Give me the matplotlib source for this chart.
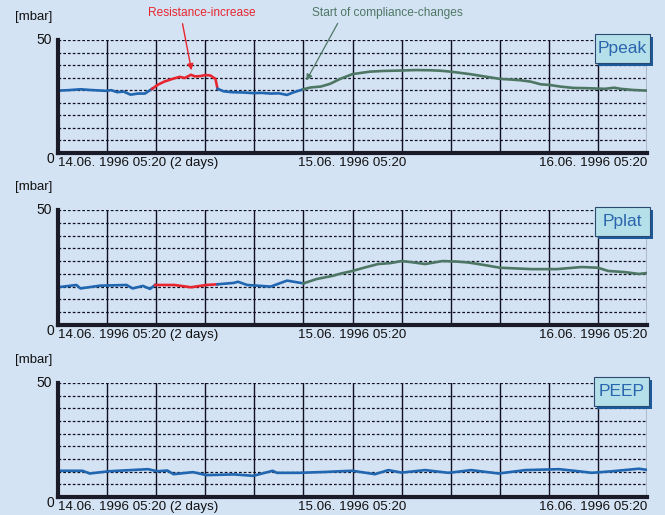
import numpy as np
import matplotlib
matplotlib.use('Agg')
import matplotlib.pyplot as plt
from matplotlib.patches import Rectangle
from matplotlib.transforms import offset_copy

plt.rcParams['font.family'] = ['Liberation Sans', 'DejaVu Sans']

# hours since 14.06. 1996 05:20, grid every 4.8 h
x_max = 57.6
x_ticks = [i * 4.8 for i in range(13)]
x_labels = ['14.06. 1996 05:20 (2 days)', '15.06. 1996 05:20', '16.06. 1996 05:20']
x_label_pos = [0, 24, 48]
panel_names = ['Ppeak', 'Pplat', 'PEEP']

# Ppeak segments
ppeak_t1 = [0, 1.0, 2.2, 3.1, 4.7, 5.2, 5.8, 6.4, 7.1, 7.8, 8.5, 9.2]
ppeak_v1 = [27.6, 27.8, 28.2, 27.9, 27.5, 27.8, 26.9, 27.2, 25.8, 26.3, 26.3, 28.4]
ppeak_tr = [9.2, 9.8, 10.4, 11.2, 11.9, 12.4, 13.0, 13.4, 13.9, 14.4, 14.9, 15.4, 15.6]
ppeak_vr = [28.4, 30.3, 31.6, 32.8, 33.7, 33.2, 34.6, 33.9, 34.0, 34.5, 34.3, 32.8, 28.4]
ppeak_t2 = [15.6, 16.2, 17.0, 18.0, 19.1, 19.9, 20.8, 21.6, 22.4, 23.0, 24.0]
ppeak_v2 = [28.4, 27.3, 26.9, 26.8, 26.5, 26.6, 26.3, 26.4, 25.7, 26.8, 28.2]
ppeak_tg = [24.0, 24.7, 25.7, 26.6, 27.6, 28.8, 30.5, 31.8, 33.6, 35.0, 36.4, 37.4, 38.4, 39.6,
            40.3, 41.8, 43.2, 44.3, 45.2, 46.2, 47.2, 48.1, 49.1, 50.4, 51.6, 52.8, 53.5, 54.4,
            55.0, 56.2, 57.6]
ppeak_vg = [28.2, 29.0, 29.4, 30.6, 32.8, 34.9, 36.0, 36.3, 36.5, 36.7, 36.6, 36.4, 36.0, 35.3,
            34.9, 33.8, 32.8, 32.5, 32.2, 31.6, 30.4, 30.1, 29.4, 28.8, 28.7, 28.5, 28.4, 28.9,
            28.4, 27.9, 27.6]

# Pplat segments
pplat_t1 = [0, 1.8, 2.2, 4.1, 6.7, 7.3, 8.3, 9.0, 9.5]
pplat_v1 = [16.4, 17.4, 15.9, 17.1, 17.4, 15.9, 17.0, 15.7, 17.4]
pplat_tr = [9.5, 11.4, 13.0, 14.5, 15.6]
pplat_vr = [17.4, 17.4, 16.4, 17.4, 17.7]
pplat_t2 = [15.6, 17.2, 17.6, 18.5, 20.8, 22.4, 24.0]
pplat_v2 = [17.7, 18.3, 18.8, 17.4, 16.7, 19.3, 18.1]
pplat_tg = [24.0, 25.3, 26.9, 27.6, 28.8, 30.0, 31.3, 32.5, 33.6, 34.6, 35.9, 37.6, 38.9, 40.1,
            41.8, 43.2, 46.3, 48.8, 51.2, 52.8, 53.8, 55.4, 56.8, 57.6]
pplat_vg = [18.1, 20.0, 21.4, 22.3, 23.5, 25.0, 26.5, 26.9, 27.8, 27.3, 26.5, 27.8, 27.6, 27.2,
            26.0, 24.9, 24.3, 24.3, 25.2, 24.9, 23.5, 23.0, 22.2, 22.6]

# PEEP
peep_t = [0, 2.4, 3.1, 5.0, 8.8, 9.7, 10.7, 11.3, 13.2, 14.5, 17.2, 19.1, 21.0, 21.4, 23.6, 26.2,
          27.6, 28.8, 31.0, 32.3, 33.6, 35.9, 38.2, 40.4, 43.1, 45.7, 49.0, 50.9, 52.2, 54.2,
          56.8, 57.6]
peep_v = [11.5, 11.5, 10.3, 11.3, 12.2, 11.3, 11.6, 10.0, 10.9, 9.6, 9.9, 9.3, 11.5, 10.6, 10.6,
          11.0, 11.3, 11.5, 10.0, 11.8, 10.7, 11.8, 10.6, 11.8, 10.3, 11.8, 12.2, 11.3, 10.6, 11.3,
          12.4, 11.9]

bg = '#d4e3f4'
blue = '#2166b0'
red = '#e8262f'
green = '#4d7764'

W, H = 665, 515
fig = plt.figure(figsize=(W / 100, H / 100), dpi=100, facecolor=bg)

# axes positions in pixels: (left, top, right, bottom)
boxes = [(58, 40, 647, 153), (58, 210, 647, 325), (58, 383, 647, 497)]
label_shift = [0, -4, -7]   # points
axes = []
for (l, t, r, b) in boxes:
    ax = fig.add_axes([l / W, 1 - b / H, (r - l) / W, (b - t) / H])
    ax.set_facecolor(bg)
    ax.set_xlim(0, x_max)
    ax.set_ylim(0, 50)
    ax.set_xticks(x_ticks)
    ax.set_yticks(np.linspace(0, 50, 10))
    ax.tick_params(length=0, labelbottom=False, labelleft=False)
    for sp in ['top', 'right']:
        ax.spines[sp].set_visible(False)
    for sp in ['left', 'bottom']:
        ax.spines[sp].set_linewidth(3)
        ax.spines[sp].set_color('#1a1a28')
    ax.grid(axis='x', color='#111122', lw=1.0, ls='-')
    ax.grid(axis='y', color='#111122', lw=0.9, ls=(0, (2.2, 1.6)))
    ax.set_axisbelow(True)
    for xp, lab, dx in zip(x_label_pos, x_labels, label_shift):
        tr = offset_copy(ax.get_xaxis_transform(), fig=fig, x=dx, y=0, units='points')
        ax.text(xp, -0.09, lab, transform=tr, ha='left', va='center',
                fontsize=9.6, color='#111111')
    fig.text((l - 6) / W, 1 - t / H, '50', ha='right', va='center', fontsize=10, color='#111111')
    fig.text((l - 4) / W, 1 - (b + 6) / H, '0', ha='right', va='center', fontsize=10, color='#111111')
    fig.text(15 / W, 1 - (t - 23) / H, '[mbar]', ha='left', va='center', fontsize=9.5, color='#111111')
    axes.append(ax)

lw = 1.9
axes[0].plot(ppeak_t1, ppeak_v1, color=blue, lw=lw)
axes[0].plot(ppeak_tr, ppeak_vr, color=red, lw=lw)
axes[0].plot(ppeak_t2, ppeak_v2, color=blue, lw=lw)
axes[0].plot(ppeak_tg, ppeak_vg, color=green, lw=lw)

axes[1].plot(pplat_t1, pplat_v1, color=blue, lw=lw)
axes[1].plot(pplat_tr, pplat_vr, color=red, lw=lw)
axes[1].plot(pplat_t2, pplat_v2, color=blue, lw=lw)
axes[1].plot(pplat_tg, pplat_vg, color=green, lw=lw)

axes[2].plot(peep_t, peep_v, color=blue, lw=lw)

# name boxes with shadow
name_boxes = [(595, 34), (595, 207), (594, 377)]
for (bx, by), name in zip(name_boxes, panel_names):
    bw, bh = 55, 29
    fig.add_artist(Rectangle(((bx + 3) / W, 1 - (by + bh + 3) / H), bw / W, bh / H,
                             transform=fig.transFigure, facecolor='#1d5a9c', edgecolor='none'))
    fig.add_artist(Rectangle((bx / W, 1 - (by + bh) / H), bw / W, bh / H,
                             transform=fig.transFigure, facecolor='#b5e0ea', edgecolor='#2a4a70', lw=0.8))
    fig.text((bx + bw / 2) / W, 1 - (by + bh / 2) / H, name, ha='center', va='center',
             fontsize=12.5, color='#2a65ad')

# annotations
fig.text(202 / W, 1 - 13 / H, 'Resistance-increase', ha='center', va='center', fontsize=8.6, color=red)
axes[0].annotate('', xy=(192 / W, 1 - 73 / H), xycoords='figure fraction',
                 xytext=(182 / W, 1 - 21 / H), textcoords='figure fraction',
                 arrowprops=dict(arrowstyle='-|>', color=red, lw=1.0, mutation_scale=9))
fig.text(312 / W, 1 - 13 / H, 'Start of compliance-changes', ha='left', va='center', fontsize=8.6, color=green)
axes[0].annotate('', xy=(305 / W, 1 - 83 / H), xycoords='figure fraction',
                 xytext=(339 / W, 1 - 21 / H), textcoords='figure fraction',
                 arrowprops=dict(arrowstyle='-|>', color=green, lw=0.9, mutation_scale=9))

fig.savefig('out.png', dpi=100, facecolor=bg)
